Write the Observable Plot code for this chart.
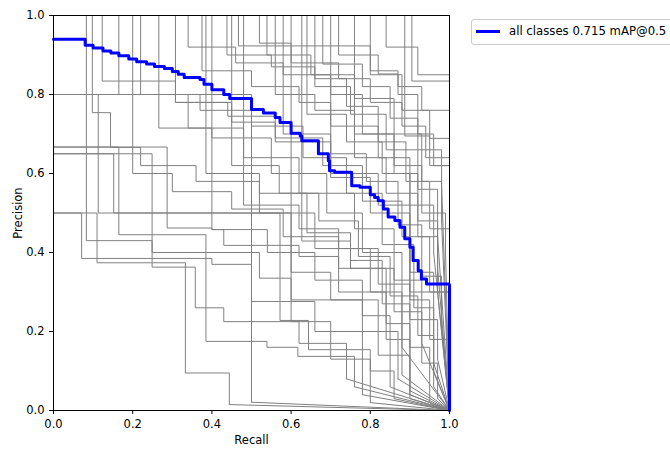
<!DOCTYPE html>
<html><head><meta charset="utf-8">
<script src="https://cdn.jsdelivr.net/npm/d3@7"></script>
<script src="https://cdn.jsdelivr.net/npm/@observablehq/plot@0.6"></script>
<style>
body{margin:0;background:#fff;font-family:"DejaVu Sans",sans-serif;}
#wrap{position:relative;width:670px;height:450px;overflow:hidden;}
#legend{position:absolute;left:471px;top:19px;width:215px;height:24px;border:1px solid #cccccc;border-radius:3px;background:rgba(255,255,255,0.8);font-size:11.7px;color:#000;}
#legend .sw{position:absolute;left:4px;top:10px;width:24px;height:3px;background:blue;}
#legend .tx{position:absolute;left:37px;top:4px;white-space:nowrap;}
</style></head><body><div id="wrap"></div>
<script>
// all-classes curve (step values)
const allRecall = [0,0.08,0.10,0.125,0.145,0.165,0.19,0.21,0.235,0.255,0.28,0.30,0.315,0.33,0.37,0.38,0.40,0.43,0.445,0.50,0.53,0.56,0.572,0.60,0.623,0.627,0.669,0.694,0.697,0.71,0.753,0.774,0.80,0.811,0.82,0.833,0.845,0.862,0.875,0.887,0.90,0.908,0.921,0.929,0.942,0.999,1.0];
const allPrecision = [0.94,0.925,0.918,0.91,0.905,0.898,0.89,0.883,0.877,0.871,0.866,0.858,0.851,0.843,0.838,0.826,0.812,0.80,0.79,0.762,0.753,0.742,0.729,0.702,0.695,0.683,0.65,0.632,0.607,0.603,0.569,0.565,0.546,0.539,0.531,0.51,0.49,0.481,0.464,0.435,0.413,0.38,0.354,0.333,0.32,0.318,0.0];

// per-class curves: [recall, precision] steps; each ends with a line to (1, 0)
const classCurves = [
  [[0,1],[0.083,0.43],[0.249,0.40],[0.52,0.335],[0.60,0.225],[0.70,0.13],[0.80,0.02]],
  [[0,1],[0.098,0.754],[0.144,0.666],[0.22,0.62],[0.36,0.58],[0.52,0.50],[0.66,0.41],[0.80,0.30],[0.88,0.09]],
  [[0,1],[0.123,0.834],[0.308,0.78],[0.44,0.745],[0.56,0.68],[0.70,0.59],[0.80,0.50],[0.90,0.35],[0.96,0.12]],
  [[0,1],[0.165,0.80],[0.34,0.715],[0.48,0.64],[0.62,0.55],[0.76,0.46],[0.86,0.33],[0.93,0.17]],
  [[0,1],[0.20,0.60],[0.30,0.554],[0.45,0.51],[0.58,0.44],[0.72,0.36],[0.84,0.22],[0.90,0.04]],
  [[0,1],[0.22,0.80],[0.37,0.76],[0.50,0.72],[0.63,0.64],[0.74,0.55],[0.83,0.42],[0.91,0.26],[0.96,0.06]],
  [[0,1],[0.266,0.715],[0.40,0.69],[0.55,0.60],[0.69,0.50],[0.78,0.40],[0.88,0.16]],
  [[0,1],[0.308,0.78],[0.45,0.73],[0.56,0.69],[0.68,0.62],[0.78,0.53],[0.88,0.44],[0.95,0.30],[1.0,0.25]],
  [[0,1],[0.375,0.86],[0.50,0.82],[0.62,0.78],[0.70,0.72],[0.82,0.64],[0.90,0.52],[0.96,0.40]],
  [[0,1],[0.40,0.458],[0.43,0.418],[0.62,0.39],[0.72,0.30],[0.84,0.18],[0.90,0.05]],
  [[0,1],[0.438,0.90],[0.55,0.87],[0.66,0.82],[0.75,0.75],[0.84,0.66],[0.92,0.56],[0.97,0.44]],
  [[0,1],[0.467,0.923],[0.80,0.90],[0.82,0.852],[0.87,0.80],[0.92,0.70],[0.96,0.62],[1.0,0.55]],
  [[0,1],[0.539,0.90],[0.65,0.85],[0.76,0.79],[0.86,0.70],[0.93,0.58],[0.98,0.48]],
  [[0,1],[0.60,0.28],[0.78,0.20],[0.87,0.08]],
  [[0,1],[0.627,0.429],[0.75,0.36],[0.86,0.25],[0.93,0.12],[0.97,0.03]],
  [[0,1],[0.68,0.877],[0.78,0.82],[0.85,0.74],[0.92,0.66],[0.98,0.57]],
  [[0,1],[0.76,0.70],[0.86,0.62],[0.93,0.50],[0.99,0.40]],
  [[0,1],[0.80,0.85],[0.88,0.76],[0.95,0.689],[1.0,0.689]],
  [[0,1],[0.905,0.834],[1.0,0.834]],
  [[0,1],[0.887,0.695],[0.95,0.62],[1.0,0.60]],
  [[0,0.80],[0.50,0.021]],
  [[0,0.667],[0.287,0.462],[0.40,0.458],[0.54,0.40],[0.66,0.33],[0.78,0.24],[0.85,0.06]],
  [[0,0.65],[0.152,0.50],[0.572,0.228],[0.644,0.154],[0.80,0.10],[0.86,0.03]],
  [[0,0.667],[0.165,0.445],[0.385,0.175],[0.539,0.16],[0.617,0.137],[0.76,0.06]],
  [[0,0.5],[0.071,0.385],[0.40,0.37],[0.50,0.276],[0.66,0.20],[0.78,0.04]],
  [[0,0.5],[0.11,0.374],[0.333,0.095],[0.444,0.015]],
  [[0,0.65],[0.249,0.363],[0.358,0.26],[0.43,0.225],[0.62,0.17],[0.74,0.08]],
  [[0,0.80],[0.113,0.50],[0.60,0.35],[0.70,0.28],[0.82,0.14],[0.90,0.03]],
  [[0,1],[0.58,0.70],[0.70,0.65],[0.79,0.58],[0.87,0.47],[0.93,0.34],[0.98,0.22]],
  [[0,1],[0.52,0.93],[0.60,0.88],[0.72,0.84],[0.80,0.78],[0.88,0.72],[0.94,0.64],[1.0,0.50]],
  [[0,1],[0.34,0.92],[0.46,0.88],[0.58,0.85],[0.70,0.80],[0.78,0.70],[0.86,0.60],[0.92,0.48],[0.97,0.36]],
  [[0,1],[0.45,0.62],[0.57,0.55],[0.67,0.48],[0.77,0.39],[0.85,0.29],[0.92,0.19],[0.96,0.10]],
  [[0,1],[0.385,0.60],[0.52,0.55],[0.64,0.45],[0.75,0.38],[0.83,0.27],[0.90,0.16],[0.95,0.02]],
  [[0,1],[0.48,0.52],[0.62,0.46],[0.72,0.41],[0.82,0.32],[0.90,0.23],[0.97,0.13]],
  [[0,1],[0.70,0.60],[0.82,0.52],[0.90,0.30],[1.0,0.28]],
  [[0,1],[0.64,0.75],[0.74,0.68],[0.83,0.60],[0.90,0.28],[0.95,0.18],[1.0,0.15]],
  [[0,1],[0.56,0.80],[0.66,0.76],[0.76,0.64],[0.84,0.55],[0.92,0.44],[0.97,0.30]],
  [[0,1],[0.66,0.84],[0.74,0.77],[0.82,0.68],[0.89,0.58],[0.95,0.46],[1.0,0.35]],
  [[0,1],[0.72,0.90],[0.80,0.86],[0.87,0.82],[0.93,0.76],[1.0,0.65]],
  [[0,1],[0.84,0.92],[0.92,0.85],[1.0,0.70]]
];
const endRecall = 1.0;
const endPrecision = 0.0;
const xTicks = [0,0.2,0.4,0.6,0.8,1.0];
const yTicks = [0,0.2,0.4,0.6,0.8,1.0];
const legendLabel = "all classes 0.715 mAP@0.5";

const stepRows = classCurves.flatMap((c, i) => c.map(([r, p]) => ({cls: i, r, p})));
const tails = classCurves.map(c => ({r: c[c.length - 1][0], p: c[c.length - 1][1]}));
const allRows = allRecall.map((r, i) => ({r, p: allPrecision[i]}));

const chart = Plot.plot({
  width: 670, height: 450,
  marginLeft: 53, marginRight: 221, marginTop: 15, marginBottom: 40,
  style: {fontFamily: "DejaVu Sans, sans-serif", fontSize: "11.5px", color: "#000", background: "#fff"},
  x: {domain: [0, 1]},
  y: {domain: [0, 1]},
  marks: [
    Plot.lineY(stepRows, {x: "r", y: "p", z: "cls", curve: "step-after", stroke: "#808080", strokeWidth: 1}),
    Plot.link(tails, {x1: "r", y1: "p", x2: () => endRecall, y2: () => endPrecision, stroke: "#808080", strokeWidth: 1}),
    Plot.lineY(allRows, {x: "r", y: "p", curve: "step-after", stroke: "blue", strokeWidth: 3}),
    Plot.frame({stroke: "#000", strokeWidth: 1}),
    Plot.axisX({ticks: xTicks, tickFormat: d3.format(".1f"), tickSize: 4, fontSize: 11.5, label: "Recall", labelAnchor: "center", labelArrow: "none", labelOffset: 33}),
    Plot.axisY({ticks: yTicks, tickFormat: d3.format(".1f"), tickSize: 4, fontSize: 11.5, label: "Precision", labelAnchor: "center", labelArrow: "none", labelOffset: 40})
  ]
});
const wrap = document.getElementById("wrap");
wrap.appendChild(chart);
const lg = document.createElement("div");
lg.id = "legend";
lg.innerHTML = '<div class="sw"></div><div class="tx"></div>';
lg.querySelector(".tx").textContent = legendLabel;
wrap.appendChild(lg);
</script></body></html>
